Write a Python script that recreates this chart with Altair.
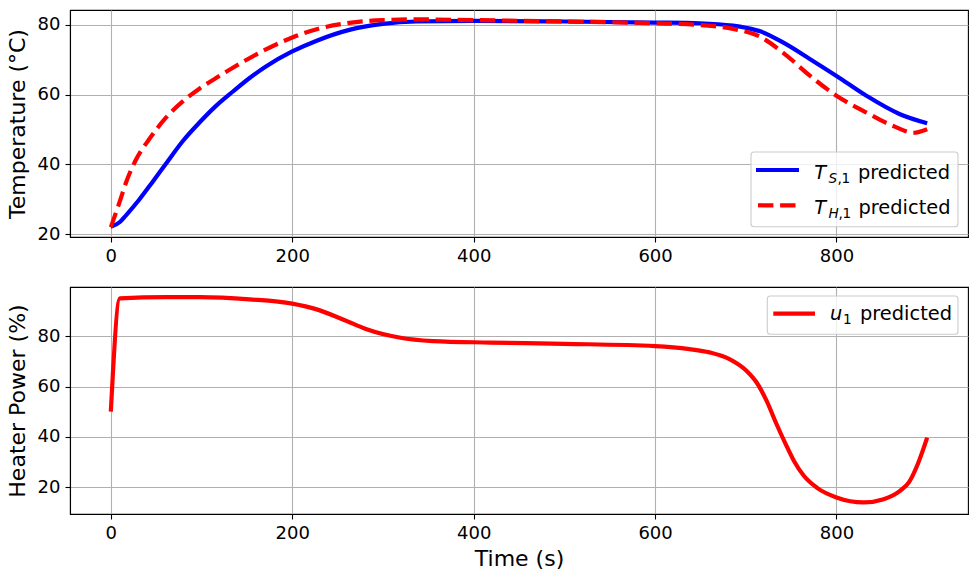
import altair as alt
import pandas as pd

# ---------------- data ----------------
ts_time = [0, 10, 17, 31, 46, 61, 79, 98, 116, 135, 153, 171, 200, 227, 263, 300,
           337, 400, 500, 600, 649, 686, 700, 716, 741, 771, 800, 833, 870, 900]
ts_vals = [22.1, 23.5, 25.5, 29.8, 35.0, 40.3, 46.6, 52.1, 56.8, 61.0, 64.8, 68.1,
           72.4, 75.5, 78.6, 80.3, 81.0, 81.2, 81.0, 80.7, 80.5, 79.8, 79.2, 78.2,
           75.0, 70.2, 65.4, 59.7, 54.4, 51.8]

th_time = [0, 10, 17, 27, 43, 61, 79, 98, 116, 135, 171, 200, 227, 263, 300, 337,
           400, 500, 600, 649, 686, 716, 741, 771, 800, 833, 862, 885, 900]
th_vals = [22.0, 29.5, 35.0, 41.0, 47.5, 53.5, 58.0, 61.8, 64.8, 67.8, 73.0, 76.4,
           78.8, 80.6, 81.4, 81.6, 81.4, 81.0, 80.5, 80.0, 78.9, 76.6, 72.1, 65.4,
           59.7, 54.9, 51.1, 49.1, 50.1]

u_time = [0, 10, 61, 98, 153, 200, 227, 256, 282, 318, 355, 418, 500, 600, 638,
          660, 682, 701, 712, 723, 734, 744, 753, 764, 779, 800, 830, 852, 870,
          880, 890, 900]
u_vals = [50.0, 95.1, 95.6, 95.6, 94.7, 93.0, 90.7, 86.7, 82.8, 79.5, 78.1, 77.5,
          77.0, 76.1, 74.9, 73.6, 70.9, 66.2, 61.6, 54.3, 45.0, 37.1, 30.5, 24.5,
          19.6, 15.9, 13.9, 15.2, 18.5, 22.0, 29.5, 39.7]

x_ticks = [0, 200, 400, 600, 800]
temp_ticks = [20, 40, 60, 80]
power_ticks = [20, 40, 60, 80]

ts_label = ("T", "S", ",", "1", "predicted")
th_label = ("T", "H", ",", "1", "predicted")
u_label = ("u", "1", "predicted")

# ---------------- styling ----------------
FONT = "DejaVu Sans"
W, H = 898, 227
LW = 4.2
BLUE = "#0000ff"
RED = "#ff0000"
DASH = [15.4, 6.7]
LEG_FS = 19.4
SUB_FS = 13.6

ts_df = pd.DataFrame({"t": ts_time, "v": ts_vals})
th_df = pd.DataFrame({"t": th_time, "v": th_vals})
u_df = pd.DataFrame({"t": u_time, "v": u_vals})
dummy = pd.DataFrame({"a": [0]})

xscale = alt.Scale(domain=[-45, 945], nice=False, zero=False)


def xenc(title):
    kw = dict(values=x_ticks, grid=True, labelFlush=False, labelPadding=5)
    if title:
        return alt.X("t:Q", scale=xscale, axis=alt.Axis(title=title, titlePadding=6, **kw))
    return alt.X("t:Q", scale=xscale, axis=alt.Axis(title=None, **kw))


def yenc(title, ticks, domain):
    return alt.Y("v:Q", scale=alt.Scale(domain=domain, nice=False, zero=False),
                 axis=alt.Axis(title=title, values=ticks, grid=True, labelFlush=False,
                               labelPadding=5, titlePadding=8))


def txt(s, x, y, size=LEG_FS, italic=False):
    kw = dict(text=s, font=FONT, fontSize=size, align="left", baseline="alphabetic",
              color="black")
    if italic:
        kw["fontStyle"] = "italic"
    return alt.Chart(dummy).mark_text(**kw).encode(x=alt.value(x), y=alt.value(y))


def box(x1, x2, y1, y2):
    return alt.Chart(dummy).mark_rect(fill="white", fillOpacity=0.8, stroke="#cccccc",
                                      strokeWidth=1.1, cornerRadius=3).encode(
        x=alt.value(x1), x2=alt.value(x2), y=alt.value(y1), y2=alt.value(y2))


def legline(x1, x2, y, color, dash=None):
    kw = dict(color=color, strokeWidth=LW)
    if dash:
        kw["strokeDash"] = dash
    return alt.Chart(dummy).mark_rule(**kw).encode(
        x=alt.value(x1), x2=alt.value(x2), y=alt.value(y))


# ---------------- top panel ----------------
ts_line = alt.Chart(ts_df).mark_line(color=BLUE, strokeWidth=LW, interpolate="monotone").encode(
    x=xenc(None), y=yenc("Temperature (°C)", temp_ticks, [19.2, 84.3]))
th_line = alt.Chart(th_df).mark_line(color=RED, strokeWidth=LW, strokeDash=DASH,
                                     interpolate="monotone").encode(
    x=xenc(None), y=yenc("Temperature (°C)", temp_ticks, [19.2, 84.3]))

top_legend = [
    box(681, 888, 142, 216.7),
    legline(686, 729, 160, BLUE),
    txt(ts_label[0], 744.3, 169.3, italic=True),
    txt(ts_label[1], 758.5, 173.3, size=SUB_FS, italic=True),
    txt(ts_label[2], 767.5, 173.3, size=SUB_FS),
    txt(ts_label[3], 771.5, 173.3, size=SUB_FS),
    txt(ts_label[4], 788, 169.3),
    legline(688, 729, 195.3, RED, DASH),
    txt(th_label[0], 744.3, 204, italic=True),
    txt(th_label[1], 758.5, 208, size=SUB_FS, italic=True),
    txt(th_label[2], 768.5, 208, size=SUB_FS),
    txt(th_label[3], 772.5, 208, size=SUB_FS),
    txt(th_label[4], 788.5, 204),
]

top = alt.layer(ts_line, th_line, *top_legend).properties(width=W, height=H)

# ---------------- bottom panel ----------------
u_line = alt.Chart(u_df).mark_line(color=RED, strokeWidth=LW, interpolate="monotone").encode(
    x=xenc("Time (s)"), y=yenc("Heater Power (%)", power_ticks, [9.3, 99.6]))

bot_legend = [
    box(697.3, 888, 9, 47.3),
    legline(703.3, 745, 26.7, RED),
    txt(u_label[0], 760, 33, italic=True),
    txt(u_label[1], 773, 37, size=SUB_FS),
    txt(u_label[2], 790, 33),
]

bottom = alt.layer(u_line, *bot_legend).properties(width=W, height=H)

chart = alt.vconcat(top, bottom, spacing=50, bounds="flush").properties(
    padding={"left": 5, "top": 9, "right": 5, "bottom": 5},
    background="white"
).configure_view(stroke="black", strokeWidth=1.1).configure_axis(
    domainColor="black", domainWidth=1.1, tickColor="black", tickSize=5, tickWidth=1.1,
    labelFont=FONT, labelFontSize=18, labelColor="black",
    titleFont=FONT, titleFontSize=22, titleFontWeight="normal", titleColor="black",
    gridColor="#b0b0b0", gridWidth=1.1, gridOpacity=1
)

chart.save("out.html", embed_options={"renderer": "svg", "actions": False})
